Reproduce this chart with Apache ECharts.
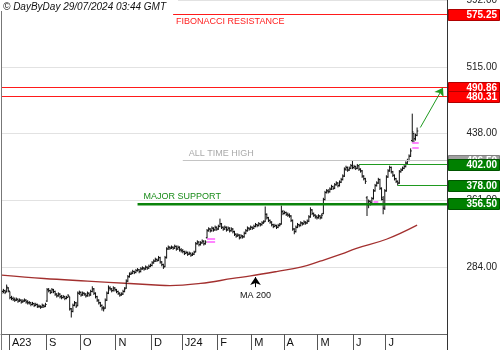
<!DOCTYPE html>
<html><head><meta charset="utf-8">
<script src="https://cdn.jsdelivr.net/npm/echarts@6/dist/echarts.min.js"></script>
<style>html,body{margin:0;padding:0;background:#fff}#c{width:500px;height:350px}</style>
</head><body><div id="c"></div>
<script>
// ---- DATA ----
const startDate = '2023-07-25', endDate = '2024-07-26';
const holidays = ['2023-12-25','2023-12-26','2024-01-01','2024-03-29','2024-04-01','2024-05-01'];
const futureSlots = 18;
const monthKeys = ['2023-08','2023-09','2023-10','2023-11','2023-12','2024-01','2024-02','2024-03','2024-04','2024-05','2024-06','2024-07'];
const monthLabels = ['A23','S','O','N','D','J24','F','M','A','M','J','J'];

const opens = [255,256,257,256,260,
256,249,248,247,246,247,245,246,244,245,246,244,243,243,241,242,240,241,239,239,238,240,239,
245,258,257,255,258,256,253,251,253,250,249,250,248,249,250,236,233,240,243,240,254,
255,252,254,253,251,254,252,256,259,254,250,246,243,240,237,237,246,254,260,259,257,260,
258,256,254,252,253,256,260,268,273,276,277,279,278,280,281,279,282,283,282,284,283,285,
286,289,291,293,292,295,290,287,285,295,305,307,306,307,306,308,305,307,304,
303,302,300,301,299,300,298,299,302,311,313,310,312,314,311,318,326,328,326,329,327,330,
328,331,334,330,328,330,327,329,326,328,325,322,320,321,318,320,319,323,326,329,328,
330,329,331,333,332,334,333,335,337,345,341,338,336,333,331,332,330,332,334,348,
346,347,345,344,343,338,328,325,330,333,332,335,334,336,335,337,342,350,346,344,342,
341,343,341,346,362,370,372,371,374,377,375,379,381,378,382,385,389,397,399,396,398,401,
399,400,398,401,397,395,389,386,364,356,360,358,363,372,378,381,385,375,362,352,
372,388,395,399,394,390,386,383,381,394,396,398,400,404,407,412,430,438,432,436];
const closes = [256,257,255,261,257,
249,248,247,246,247,245,246,244,245,246,244,243,243,241,242,240,241,239,239,238,240,239,241,
258,257,255,258,256,253,251,253,250,249,250,248,249,251,236,233,240,243,239,254,255,
252,254,253,251,254,252,256,259,254,250,246,243,240,237,236,246,254,260,259,257,260,258,
256,254,252,253,256,259,268,273,276,277,279,278,280,281,279,282,283,282,284,283,285,286,
289,291,293,292,295,290,287,284,295,305,307,306,307,306,308,305,307,304,303,
302,300,301,299,300,298,299,301,311,313,310,312,314,311,313,326,328,326,329,327,330,328,
331,334,330,328,330,327,329,326,328,325,322,320,321,318,320,319,323,326,329,328,330,
329,331,333,332,334,333,335,336,345,341,338,336,333,331,332,330,332,333,348,346,
347,345,344,343,338,328,325,330,333,332,335,334,336,335,337,342,350,346,344,342,341,
343,341,344,362,370,372,371,374,377,375,379,381,378,382,385,389,397,399,396,398,401,399,
400,398,401,397,395,389,386,383,356,360,358,363,372,378,381,385,375,364,352,372,
388,395,399,394,390,386,383,381,394,396,398,400,404,407,412,418,440,432,436,441];
const lows = [253,254,253,255,255,
247,246,245,244,245,243,244,242,243,244,242,241,241,239,240,238,239,237,237,236,237,237,238,
244,255,253,254,254,251,249,250,248,247,248,246,247,249,234,226,232,239,237,239,252,
250,251,251,249,250,250,251,255,252,248,244,241,238,234,233,236,245,253,257,255,256,256,
254,252,250,251,252,255,259,267,272,275,276,276,277,279,277,278,281,280,281,281,282,284,
285,288,290,290,291,288,285,282,284,294,304,304,305,304,305,303,304,302,301,
300,298,299,297,298,296,297,298,301,310,308,309,311,309,310,317,325,324,325,325,326,326,
327,330,328,326,327,325,326,324,325,323,320,318,319,316,317,317,318,322,325,326,327,
327,328,330,330,331,331,332,334,336,339,336,334,331,329,330,328,329,331,333,344,
345,343,342,341,336,326,322,324,329,330,331,332,333,333,334,336,341,344,342,340,339,
340,339,340,345,361,369,369,370,373,373,374,378,376,377,381,384,388,395,394,395,397,397,
397,396,397,395,393,387,384,380,343,352,355,357,362,371,377,380,373,361,345,350,
371,387,394,392,388,384,381,378,380,393,395,397,399,403,406,411,428,428,430,435];
const highs = [258,259,258,264,261,
256,251,250,249,249,248,248,247,247,248,247,246,245,244,244,243,243,242,241,240,242,241,243,
260,260,258,260,259,257,254,255,254,252,252,251,251,253,250,237,242,245,244,256,257,
256,256,255,254,256,255,258,262,260,255,251,247,244,241,239,248,256,263,262,260,262,261,
259,257,255,255,258,261,270,275,278,279,281,280,282,283,282,284,285,284,286,285,287,288,
291,293,295,294,297,296,291,288,297,307,309,308,309,308,310,309,309,308,306,
305,303,303,302,302,301,301,303,313,315,314,314,316,315,315,328,330,329,331,330,332,331,
333,340,335,331,332,331,331,330,330,329,326,323,323,322,322,321,325,328,331,330,332,
331,333,335,334,336,335,337,338,354,346,342,339,337,334,334,333,334,335,355,350,
349,348,347,346,344,339,329,332,335,334,337,336,338,337,339,344,353,351,347,345,344,
345,344,346,364,372,374,374,376,379,378,381,383,382,384,387,391,399,401,400,400,403,406.5,
402,401,403,402,398,396,390,387,366,362,361,365,374,380,383,387,386,376,366,374,
390,397,401,400,395,391,387,384,396,398,400,402,406,409,414,421,461,439,438,445];

// 200-day moving average, read at sample bars
const maIndex  = [0, 26, 53, 79, 95, 104, 123, 143, 154, 170, 185, 197, 210, 219, 238, 257];
const maValues = [274.8, 271, 268, 265.2, 263.5, 262.8, 265.3, 271, 274, 279, 284, 291, 299, 305.5, 316.2, 332.5];

// horizontal levels
const fibLevel = 575.25, resist1 = 490.86, resist2 = 480.31, athLevel = 406.5;
const support1 = 402.00, support2 = 378.00, majorSupport = 356.50;
const yMin = 207, yMax = 592, yStep = 77;
// [level, first bar index, line colour, width, caption, caption colour, caption side]
const levelLines = [
  [fibLevel, 106, '#ff1a1a', 1, 'FIBONACCI RESISTANCE', '#ff2020', 'below'],
  [resist1, 0, '#ff1a1a', 1, '', '', ''],
  [resist2, 0, '#ff1a1a', 1, '', '', ''],
  [athLevel, 112, '#c4c4c4', 1, 'ALL TIME HIGH', '#aaaaaa', 'above'],
  [support1, 221, '#1f9a1f', 1, '', '', ''],
  [support2, 245, '#1f9a1f', 1, '', '', ''],
  [majorSupport, 84, '#0b830b', 2.5, 'MAJOR SUPPORT', '#1a8c1a', 'above']
];
const priceTags = [
  [fibLevel, '#ff0000', '#b00000'], [resist1, '#ff0000', '#b00000'], [resist2, '#ff0000', '#b00000'],
  [athLevel, '#a0a0a0', '#808080'], [support1, '#008000', '#005500'],
  [support2, '#008000', '#005500'], [majorSupport, '#008000', '#005500']
];

// ---- BUILD ----
const cats = [];
(function(){
  const d = new Date(startDate + 'T00:00:00Z'), end = new Date(endDate + 'T00:00:00Z');
  while (d <= end) {
    const s = d.toISOString().slice(0,10), wd = d.getUTCDay();
    if (wd !== 0 && wd !== 6 && holidays.indexOf(s) < 0) cats.push(s);
    d.setUTCDate(d.getUTCDate()+1);
  }
})();
const nBars = cats.length;
for (let k = 1; k <= futureSlots; k++) cats.push('f' + k);
const lastIdx = cats.length - 1;
const labelAt = {};
for (let i = 1; i < nBars; i++) {
  const m = cats[i].slice(0,7);
  if (m !== cats[i-1].slice(0,7)) { const k = monthKeys.indexOf(m); if (k >= 0) labelAt[i] = monthLabels[k]; }
}
const ohlc = closes.map((c,i)=>[i, opens[i], c, lows[i], highs[i]]);
const FONT = '"Liberation Sans", Arial, sans-serif';

function seg(i0, i1, v, color, width) {
  return [{ coord: [i0, v], lineStyle: { color: color, width: width || 1, type: 'solid' } }, { coord: [i1, v] }];
}

const chart = echarts.init(document.getElementById('c'), null, { renderer: 'canvas' });
chart.setOption({
  animation: false,
  grid: { left: 1, right: 53, top: 0, bottom: 16, containLabel: false, outerBoundsMode: 'none' },
  xAxis: {
    type: 'category', data: cats, boundaryGap: true,
    axisLine: { show: true, lineStyle: { color: '#666', width: 1 } },
    axisTick: { show: true, length: 16, interval: (i) => labelAt[i] !== undefined, lineStyle: { color: '#555' } },
    axisLabel: { interval: (i) => labelAt[i] !== undefined, formatter: (v, i) => labelAt[i] || '',
      align: 'left', margin: 3, padding: [0,0,0,2], fontSize: 11, color: '#111', fontFamily: FONT },
    splitLine: { show: false }
  },
  yAxis: {
    type: 'value', position: 'right', min: yMin, max: yMax, interval: yStep,
    axisLine: { show: false }, axisTick: { show: false },
    splitLine: { show: true, lineStyle: { color: '#e2e2e2', width: 1 } },
    axisLabel: { formatter: (v) => v.toFixed(2), align: 'right', margin: 50, fontSize: 10, color: '#222', fontFamily: FONT, showMinLabel: false }
  },
  series: [
    {
      type: 'custom', z: 3, data: ohlc, encode: { x: 0, y: [1,2,3,4] }, clip: true,
      renderItem: function (params, api) {
        const i = api.value(0);
        const pO = api.coord([i, api.value(1)]), pC = api.coord([i, api.value(2)]);
        const pL = api.coord([i, api.value(3)]), pH = api.coord([i, api.value(4)]);
        const x = pL[0];
        const st = { stroke: '#111', lineWidth: 1 };
        return { type: 'group', children: [
          { type: 'line', shape: { x1: x, y1: pH[1], x2: x, y2: pL[1] }, style: st },
          { type: 'line', shape: { x1: x - 1.2, y1: pO[1], x2: x, y2: pO[1] }, style: st },
          { type: 'line', shape: { x1: x, y1: pC[1], x2: x + 1.2, y2: pC[1] }, style: st }
        ]};
      }
    },
    {
      type: 'line', z: 2, clip: false, data: maIndex.map((i,k)=>[i, maValues[k]]), smooth: 0.4, showSymbol: false,
      lineStyle: { color: '#a3302f', width: 1.3 }, silent: true,
      markLine: {
        silent: true, symbol: ['none','none'], animation: false,
        label: { show: false },
        data: [
          // pink gap markers
          seg(127, 132, 317, '#ff5cff', 1.5), seg(127, 132, 313.8, '#ff5cff', 1.5),
          seg(229.5, 232.5, 360, '#ff5cff', 1.5),
          seg(253.5, 258, 427.4, '#ff5cff', 1.5), seg(253.5, 258, 422.2, '#ff5cff', 1.5),
          // arrows
          [{ coord: [259, 445], symbol: 'none', lineStyle: { color: '#1f9a1f', width: 1, type: 'solid' } },
           { coord: [273, resist1], symbol: 'arrow', symbolSize: 8 }],
          [{ coord: [157, 261], symbol: 'none', lineStyle: { color: '#000', width: 1, type: 'solid' },
             label: { show: true, position: 'start', distance: 4, formatter: 'MA 200', color: '#111', fontSize: 9, fontFamily: FONT } },
           { coord: [157, 272.6], symbol: 'arrow', symbolSize: 8 }]
        ]
      }
    }
  ]
});

// level lines and price tags, positioned through the chart's own axes
const gfx = [
  { type: 'line', z: 100, shape: { x1: 447.5, y1: 0, x2: 447.5, y2: 350 }, style: { stroke: '#333', lineWidth: 1 } },
  { type: 'line', z: 100, shape: { x1: 1.5, y1: 0, x2: 1.5, y2: 350 }, style: { stroke: '#777', lineWidth: 1 } },
  { type: 'rect', z: 100, shape: { x: 0, y: 0, width: 178, height: 11 }, style: { fill: '#fff' } },
  { type: 'text', z: 101, left: 3, top: 2, style: { text: '\u00a9 DayByDay 29/07/2024 03:44 GMT', font: 'italic 10px ' + FONT, fill: '#111' } }
];
const xRight = 447;
levelLines.forEach((L) => {
  const py = chart.convertToPixel({ yAxisIndex: 0 }, L[0]);
  const x0 = L[1] === 0 ? 1 : chart.convertToPixel({ xAxisIndex: 0 }, L[1]);
  const y = L[3] > 1.5 ? py : Math.round(py - 0.5) + 0.5;
  gfx.push({ type: 'line', z: 4, silent: true, shape: { x1: x0, y1: y, x2: xRight, y2: y }, style: { stroke: L[2], lineWidth: L[3] } });
  if (L[4]) {
    const below = L[6] === 'below';
    gfx.push({ type: 'text', z: 5, silent: true, x: x0 + (below ? 3 : 6), y: below ? y + 3 : y - 2 - L[3] / 2,
      style: { text: L[4], fill: L[5], font: '9px ' + FONT, verticalAlign: below ? 'top' : 'bottom' } });
  }
});
priceTags.forEach((t, k) => {
  const y = chart.convertToPixel({ yAxisIndex: 0 }, t[0]);
  gfx.push({ type: 'rect', z: 110 + k, shape: { x: 448.5, y: Math.round(y) - 5.5, width: 51, height: 11 },
    style: { fill: t[1], stroke: t[2], lineWidth: 1 } });
  gfx.push({ type: 'text', z: 110 + k, x: 497, y: Math.round(y) + 0.5,
    style: { text: t[0].toFixed(2), fill: '#fff', font: 'bold 10px ' + FONT, align: 'right', verticalAlign: 'middle' } });
});
chart.setOption({ graphic: gfx });
</script></body></html>
